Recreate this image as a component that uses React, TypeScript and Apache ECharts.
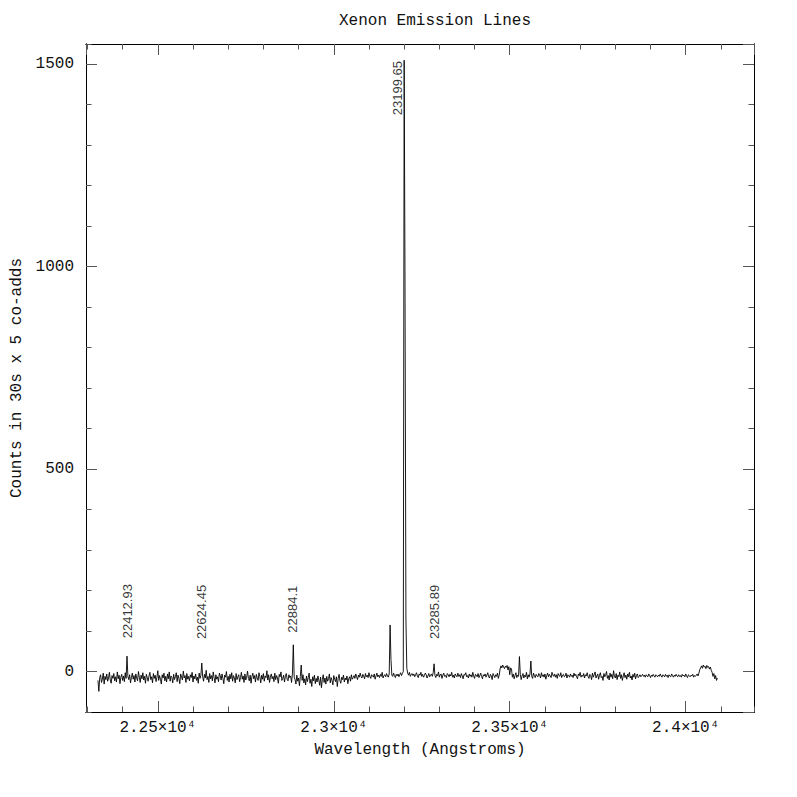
import { useEffect, useRef } from "react";
import * as echarts from "echarts";

const TITLE = "Xenon Emission Lines";
const X_NAME = "Wavelength (Angstroms)";
const Y_NAME = "Counts in 30s x 5 co-adds";

// Spectrum sampling (first sample wavelength and spacing, Angstroms)
const WAVE_START = 22330;
const WAVE_STEP = 2.5;

// Counts per sample
const COUNTS = [
  -22, -49, -15, -8, -27, -19, -4, -31, -12, -20, -6, -24, -16, -2, -21, -29, -10, -17, -5, -23,
  -13, -26, -1, -18, -9, -30, -14, -7, -22, -11, -25, -3, -17, 38, -12, -20, -8, -28, -15, -4,
  -19, -10, -26, -6, -16, -23, 0, -14, -27, -9, -18, -3, -21, -12, -29, -7, -15, -24, -11, -2,
  -20, -13, -28, -5, -17, -9, -25, -14, 2, -22, -10, -19, -31, -8, -16, -4, -23, -12, -26, -6,
  -18, -1, -24, -11, -15, -28, -7, -20, -13, -3, -25, -9, -17, -30, -6, -14, -21, 1, -16, -10,
  -27, -5, -19, -12, -23, -8, -15, -2, -26, -11, -18, -6, -22, -14, -29, -4, -17, -9, 21, -13,
  -24, -7, -16, 3, -20, -12, -27, -5, -18, -10, -23, -1, -15, -28, -8, -19, -13, -25, -4, -11,
  -21, -6, -17, -30, -9, -14, 0, -22, -12, -26, -7, -18, -3, -24, -10, -16, -28, -5, -20, -13,
  -8, -25, -15, -2, -19, -11, -27, -6, -21, -14, 1, -17, -23, -9, -29, -12, -4, -18, -10, -26,
  -7, -16, -22, -3, -13, -28, -9, -19, -5, -24, -11, -15, 2, -21, -8, -27, -14, -6, -18, -12,
  -25, -4, -20, -10, -16, -29, -7, -13, -1, -22, -17, -9, -26, -12, -5, -19, -23, -8, -15, -11,
  -27, -6, 66, -14, -20, -31, -9, -24, -16, -35, -12, 16, -22, -8, -28, -18, -33, -11, -25, -15,
  -4, -29, -19, -37, -13, -23, -9, -30, -17, -26, -11, -21, -34, -14, -40, -20, -8, -27, -16, -31,
  -12, -24, -18, -6, -28, -15, -22, -33, -10, -19, -25, -13, -37, -17, -7, -23, -29, -14, -20, -9,
  -26, -16, -21, -11, -30, -18, -13, -24, -8, -19, -15, -10, -17, -6, -13, -20, -9, -14, -4, -12,
  -16, -7, -11, -18, -5, -13, -9, -15, -3, -12, -17, -8, -10, -14, -6, -19, -11, -4, -13, -9,
  -15, -7, -12, -2, -16, -10, -8, -13, -5, -11, -14, -6, 115, 30, -9, -12, -4, -10, -15, -7,
  -11, -6, -13, -8, -3, -10, -5, 0, 1510, 940, 130, 8, -4, -9, -2, -12, -7, -5, -10, -6,
  -13, -8, -3, -11, -15, -6, -9, -2, -12, -7, -14, -10, -4, -8, -16, -11, -5, -13, -9, -6,
  -12, -3, 19, -10, -15, -7, -11, -1, -14, -8, -6, -17, -9, -4, -12, -10, -15, -5, -8, -13,
  -7, -11, -2, -14, -9, -16, -6, -10, -13, -4, -12, -8, -15, -5, -11, -18, -7, -9, -3, -13,
  -10, -16, -6, -12, -8, -14, -2, -11, -17, -7, -9, -13, -5, -15, -10, -4, -12, -18, -8, -11,
  -6, -14, -9, -3, -13, -16, -7, -11, -20, -5, -10, -15, -8, -12, -4, -17, -9, 6, 14, 9,
  16, 11, 7, 13, 10, 15, 4, 12, -8, 9, 6, -14, -6, -18, -10, -3, -15, -9, -12, 37,
  -7, -20, -11, -5, -16, -9, -13, -2, -18, -8, -14, -6, 26, -12, -17, -4, -10, -15, -7, -11,
  -13, -5, -9, -16, -3, -12, -8, -14, -6, -19, -10, -4, -13, -7, -11, -15, -2, -9, -12, -6,
  -14, -8, -17, -5, -10, -12, -3, -15, -9, -7, -13, -11, -4, -16, -8, -10, -14, -6, -12, -9,
  -15, -4, -11, -7, -13, -18, -6, -10, -2, -14, -9, -12, -5, -16, -8, -11, -3, -13, -17, -7,
  -10, -20, -4, -14, -8, -1, -16, -11, -6, -19, -9, -3, -15, -12, -22, -5, -13, -8, 0, -17,
  -10, -21, -4, -14, -7, -18, 2, -12, -16, -5, -20, -9, -13, -1, -17, -8, -22, -11, -3, -15,
  -9, -19, -6, -13, -2, -16, -11, -21, -7, -14, -4, -18, -10, -6, -15, -12, -8, -13, -10, -7,
  -12, -9, -14, -8, -11, -13, -6, -10, -15, -9, -12, -7, -11, -14, -8, -10, -13, -9, -12, -6,
  -11, -14, -8, -10, -13, -7, -12, -9, -15, -8, -11, -13, -6, -10, -14, -9, -12, -7, -11, -13,
  -8, -12, -10, -14, -7, -11, -9, -13, -6, -12, -15, -8, -10, -13, -9, -11, -7, -14, -10, -12,
  -9, -6, -11, -4, 5, 9, 14, 8, 16, 11, 13, 7, 15, 10, 12, 6, 11, 3, -2, -12,
  -5, -18, -10, -22, -16,
];

// Identified emission lines
const LINE_LABELS = ["22412.93", "22624.45", "22884.1", "23199.65", "23285.89"];
const LINE_WAVES = [22412.93, 22624.45, 22884.1, 23199.65, 23285.89];
const LABEL_TOPS = [216, 214, 212, 1508, 214];

// Axis ranges and tick spacing
const X_MIN = 22296;
const X_MAX = 24194;
const Y_MIN = -100;
const Y_MAX = 1550;
const X_MAJOR = 500;
const X_MINOR = 100;
const Y_MAJOR = 500;
const Y_MINOR = 100;

const FONT = "'Liberation Mono', 'DejaVu Sans Mono', monospace";
const LABEL_FONT = "'Liberation Sans', Arial, sans-serif";
const TEXT_COLOR = "#111";

function xAxis(position: string, step: number, showLabels: boolean) {
  const major = step === X_MAJOR;
  return {
    type: "value",
    position,
    min: X_MIN,
    max: X_MAX,
    minInterval: step,
    maxInterval: step,
    splitNumber: Math.round((X_MAX - X_MIN) / step),
    axisLine: { show: true, onZero: false, lineStyle: { color: "#000", width: 1 } },
    axisTick: {
      show: true,
      inside: true,
      length: major ? 11 : 5.5,
      lineStyle: { color: "#555", width: 1 },
    },
    axisLabel: {
      show: showLabels,
      showMinLabel: false,
      showMaxLabel: false,
      margin: 8,
      fontFamily: FONT,
      fontSize: 16,
      color: TEXT_COLOR,
      formatter: (v: number) => `${v / 10000}×10⁴`,
    },
    splitLine: { show: false },
    name: showLabels ? X_NAME : "",
    nameLocation: "middle",
    nameGap: 30,
    nameTextStyle: { fontFamily: FONT, fontSize: 16, color: TEXT_COLOR },
  };
}

function yAxis(position: string, step: number, showLabels: boolean) {
  const major = step === Y_MAJOR;
  return {
    type: "value",
    position,
    min: Y_MIN,
    max: Y_MAX,
    minInterval: step,
    maxInterval: step,
    splitNumber: Math.round((Y_MAX - Y_MIN) / step),
    axisLine: { show: true, onZero: false, lineStyle: { color: "#000", width: 1 } },
    axisTick: {
      show: true,
      inside: true,
      length: major ? 11 : 5.5,
      lineStyle: { color: "#555", width: 1 },
    },
    axisLabel: {
      show: showLabels,
      showMinLabel: false,
      showMaxLabel: false,
      margin: 12,
      fontFamily: FONT,
      fontSize: 16,
      color: TEXT_COLOR,
      formatter: (v: number) => String(v),
    },
    splitLine: { show: false },
    name: showLabels ? Y_NAME : "",
    nameLocation: "middle",
    nameGap: 57,
    nameTextStyle: { fontFamily: FONT, fontSize: 16, color: TEXT_COLOR },
  };
}

export default function App() {
  const ref = useRef<HTMLDivElement>(null);

  useEffect(() => {
    if (!ref.current) return;
    const chart = echarts.init(ref.current, undefined, { renderer: "svg" });

    const spectrum = COUNTS.map((c, i) => [WAVE_START + i * WAVE_STEP, c]);
    const labelPoints = LINE_WAVES.map((w, i) => ({
      value: [w, LABEL_TOPS[i]],
      label: { verticalAlign: LABEL_TOPS[i] > 1000 ? "bottom" : "middle" },
    }));

    chart.setOption({
      animation: false,
      backgroundColor: "#fff",
      title: {
        text: TITLE,
        left: 430,
        top: 8,
        textAlign: "center",
        textStyle: { fontFamily: FONT, fontSize: 16, fontWeight: "normal", color: TEXT_COLOR },
      },
      grid: {
        left: 86,
        right: 43,
        top: 44,
        bottom: 85,
        containLabel: false,
        outerBoundsMode: "none",
      },
      xAxis: [
        xAxis("bottom", X_MAJOR, true),
        xAxis("bottom", X_MINOR, false),
        xAxis("top", X_MAJOR, false),
        xAxis("top", X_MINOR, false),
      ],
      yAxis: [
        yAxis("left", Y_MAJOR, true),
        yAxis("left", Y_MINOR, false),
        yAxis("right", Y_MAJOR, false),
        yAxis("right", Y_MINOR, false),
      ],
      series: [
        {
          type: "line",
          xAxisIndex: 0,
          yAxisIndex: 0,
          data: spectrum,
          showSymbol: false,
          symbol: "none",
          silent: true,
          lineStyle: { color: "#000", width: 0.9 },
          z: 2,
        },
        {
          type: "scatter",
          xAxisIndex: 0,
          yAxisIndex: 0,
          data: labelPoints,
          symbolSize: 1,
          silent: true,
          itemStyle: { color: "rgba(0,0,0,0)" },
          z: 3,
          label: {
            show: true,
            position: "inside",
            rotate: 90,
            align: "right",
            verticalAlign: "middle",
            fontFamily: LABEL_FONT,
            fontSize: 13,
            color: "#000",
            formatter: (p: any) => LINE_LABELS[p.dataIndex],
          },
        },
      ],
    });

    return () => chart.dispose();
  }, []);

  return (
    <div
      ref={ref}
      style={{ position: "absolute", left: 0, top: 0, width: 797, height: 797, background: "#fff" }}
    />
  );
}
